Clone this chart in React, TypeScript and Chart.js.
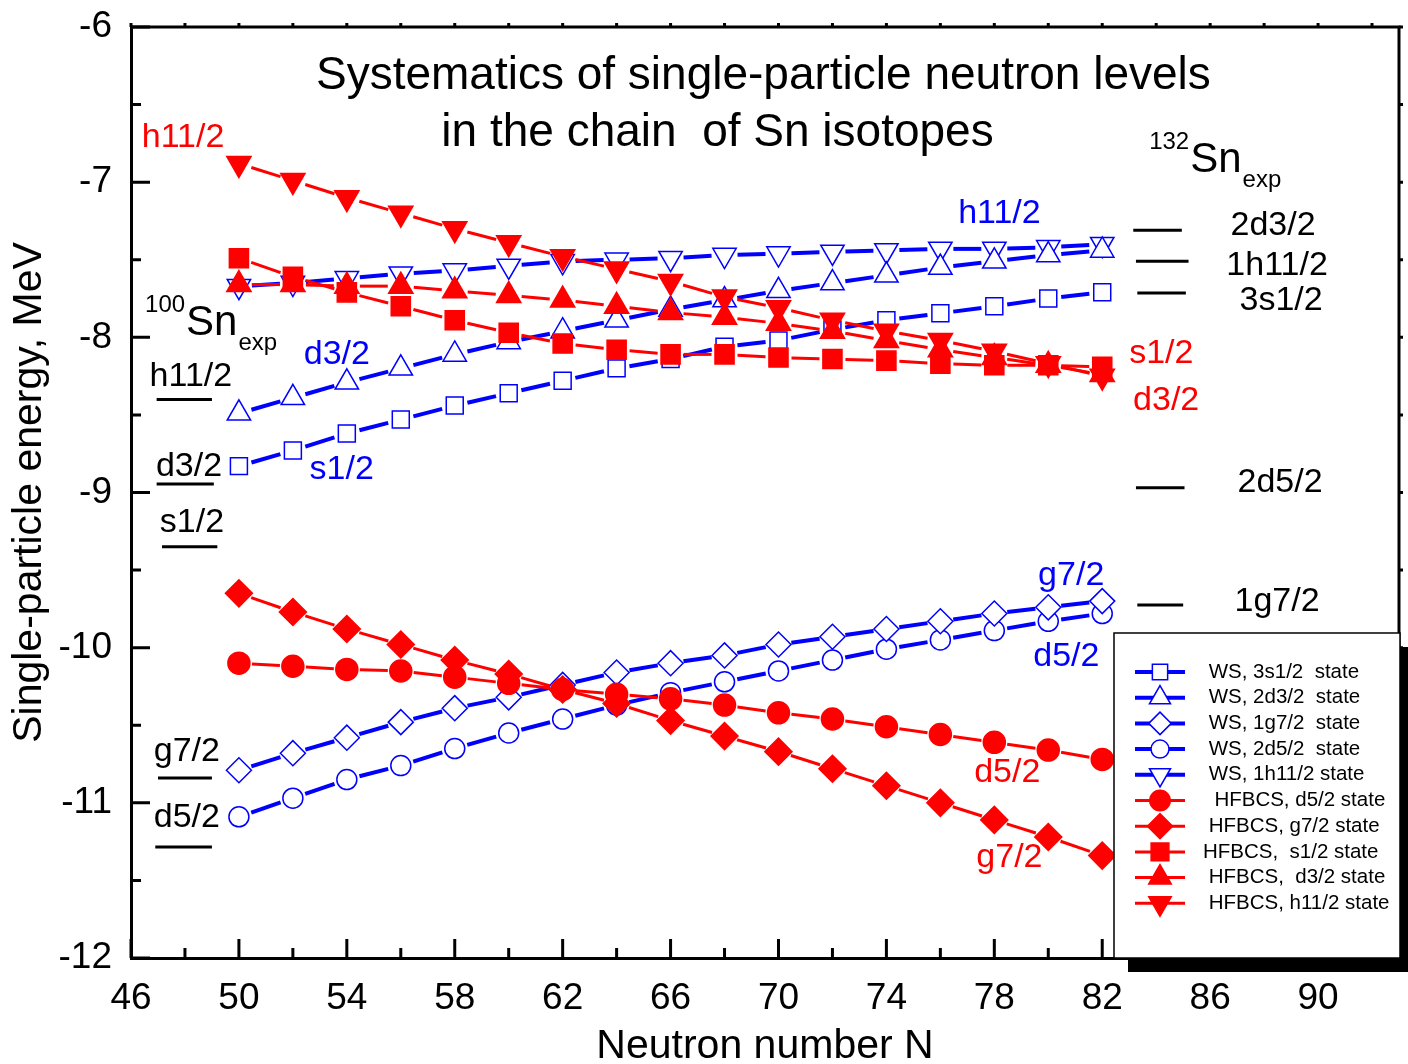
import React, { useEffect, useRef } from 'react';
import { Chart, registerables } from 'chart.js';
import { drawPoint } from 'chart.js/helpers';

Chart.register(...registerables);

const F = '"Liberation Sans", Arial, Helvetica, sans-serif';
const BLUE = '#0000ff';
const RED = '#ff0000';

// ---------- data ----------
const neutronN = [50, 52, 54, 56, 58, 60, 62, 64, 66, 68, 70, 72, 74, 76, 78, 80, 82];

const wsS12 = [-8.83, -8.73, -8.62, -8.53, -8.44, -8.36, -8.28, -8.2, -8.14, -8.06, -8.02, -7.95, -7.89, -7.845, -7.8, -7.75, -7.71];
const wsD32 = [-8.49, -8.39, -8.29, -8.2, -8.11, -8.03, -7.96, -7.89, -7.82, -7.76, -7.7, -7.65, -7.6, -7.55, -7.51, -7.47, -7.44];
const wsG72 = [-10.79, -10.68, -10.58, -10.48, -10.39, -10.32, -10.24, -10.16, -10.1, -10.05, -9.98, -9.93, -9.88, -9.83, -9.78, -9.74, -9.7];
const wsD52 = [-11.09, -10.97, -10.85, -10.76, -10.65, -10.55, -10.46, -10.37, -10.29, -10.22, -10.15, -10.08, -10.01, -9.95, -9.89, -9.83, -9.78];
const wsH112 = [-7.67, -7.65, -7.62, -7.59, -7.57, -7.54, -7.51, -7.5, -7.49, -7.47, -7.46, -7.45, -7.44, -7.43, -7.43, -7.42, -7.4];
const hfD52 = [-10.1, -10.12, -10.14, -10.15, -10.19, -10.23, -10.27, -10.3, -10.33, -10.37, -10.42, -10.46, -10.51, -10.56, -10.61, -10.66, -10.72];
const hfG72 = [-9.65, -9.77, -9.88, -9.98, -10.08, -10.17, -10.27, -10.36, -10.47, -10.57, -10.67, -10.78, -10.89, -11.0, -11.11, -11.22, -11.34];
const hfS12 = [-7.49, -7.61, -7.71, -7.8, -7.89, -7.97, -8.04, -8.08, -8.11, -8.11, -8.13, -8.14, -8.15, -8.17, -8.18, -8.18, -8.19];
const hfD32 = [-7.66, -7.66, -7.67, -7.67, -7.7, -7.73, -7.76, -7.8, -7.84, -7.87, -7.91, -7.96, -8.02, -8.08, -8.13, -8.18, -8.24];
const hfH112 = [-6.88, -6.99, -7.1, -7.2, -7.3, -7.39, -7.48, -7.56, -7.64, -7.74, -7.81, -7.89, -7.96, -8.02, -8.09, -8.17, -8.25];

const legendNames = [
  ' WS, 3s1/2  state',
  ' WS, 2d3/2  state',
  ' WS, 1g7/2  state',
  ' WS, 2d5/2  state',
  ' WS, 1h11/2 state',
  '  HFBCS, d5/2 state',
  ' HFBCS, g7/2 state',
  'HFBCS,  s1/2 state',
  ' HFBCS,  d3/2 state',
  ' HFBCS, h11/2 state',
];

// experimental levels of 100Sn (left) and 132Sn (right)
const sn100Labels = ['h11/2', 'd3/2', 's1/2', 'g7/2', 'd5/2'];
const sn100Energy = [-8.4, -8.945, -9.35, -10.84, -11.285];
const sn100XFrom = [46.95, 46.95, 47.15, 47.0, 46.9];
const sn100XTo = [49.0, 49.07, 49.2, 49.0, 49.0];
const sn100LabelX = [48.22, 48.15, 48.26, 48.07, 48.07];
const sn100LabelY = [-8.255, -8.835, -9.196, -10.671, -11.097];

const sn132Labels = ['2d3/2', '1h11/2', '3s1/2', '2d5/2', '1g7/2'];
const sn132Energy = [-7.31, -7.51, -7.715, -8.97, -9.725];
const sn132XFrom = [83.15, 83.25, 83.3, 83.25, 83.3];
const sn132XTo = [84.95, 85.2, 85.1, 85.05, 85.0];
const sn132LabelX = [88.33, 88.48, 88.63, 88.59, 88.48];
const sn132LabelY = [-7.282, -7.54, -7.765, -8.938, -9.705];

// state labels near curves [text, x, y, colour]
const curveLabels: [string, number, number, string][] = [
  ['h11/2', 47.93, -6.715, RED],
  ['d3/2', 53.63, -8.113, BLUE],
  ['s1/2', 53.81, -8.854, BLUE],
  ['h11/2', 78.19, -7.205, BLUE],
  ['g7/2', 80.85, -9.537, BLUE],
  ['d5/2', 80.67, -10.059, BLUE],
  ['s1/2', 84.19, -8.107, RED],
  ['d3/2', 84.37, -8.41, RED],
  ['d5/2', 78.48, -10.807, RED],
  ['g7/2', 78.56, -11.354, RED],
];

const titleLines = ['Systematics of single-particle neutron levels', 'in the chain  of Sn isotopes'];
const titleX = [69.44, 67.74];
const titleY = [-6.315, -6.683];

// isotope headings: [mass, x(left), y(baseline of "Sn")]
const isotopeHeads: [string, number, number][] = [
  ['100', 46.52, -7.985],
  ['132', 83.74, -6.934],
];

// ---------- series styling ----------
type Series = { vals: number[]; color: string; style: string; rot: number; r: number; filled: boolean; lw: number };
const series: Series[] = [
  { vals: wsS12, color: BLUE, style: 'rect', rot: 0, r: 12, filled: false, lw: 4 },
  { vals: wsD32, color: BLUE, style: 'triangle', rot: 0, r: 13.5, filled: false, lw: 4 },
  { vals: wsG72, color: BLUE, style: 'rectRot', rot: 0, r: 12.5, filled: false, lw: 4 },
  { vals: wsD52, color: BLUE, style: 'circle', rot: 0, r: 10, filled: false, lw: 4 },
  { vals: wsH112, color: BLUE, style: 'triangle', rot: 180, r: 13.5, filled: false, lw: 4 },
  { vals: hfD52, color: RED, style: 'circle', rot: 0, r: 11, filled: true, lw: 3 },
  { vals: hfG72, color: RED, style: 'rectRot', rot: 0, r: 13.5, filled: true, lw: 3 },
  { vals: hfS12, color: RED, style: 'rect', rot: 0, r: 13.5, filled: true, lw: 3 },
  { vals: hfD32, color: RED, style: 'triangle', rot: 0, r: 14, filled: true, lw: 3 },
  { vals: hfH112, color: RED, style: 'triangle', rot: 180, r: 14, filled: true, lw: 3 },
];

const decorPlugin = {
  id: 'decor',
  beforeDatasetDraw(chart: any, args: any) {
    const ds = chart.data.datasets[args.index];
    if (!ds.gapLine) return;
    const pts = args.meta.data;
    const ctx = chart.ctx;
    ctx.save();
    ctx.strokeStyle = ds.gapLine.color;
    ctx.lineWidth = ds.gapLine.width;
    ctx.lineCap = 'butt';
    const g = ds.gapLine.gap;
    for (let i = 0; i < pts.length - 1; i++) {
      const a = pts[i];
      const b = pts[i + 1];
      const dx = b.x - a.x;
      const dy = b.y - a.y;
      const L = Math.hypot(dx, dy);
      if (L <= 2 * g) continue;
      const ux = dx / L;
      const uy = dy / L;
      ctx.beginPath();
      ctx.moveTo(a.x + ux * g, a.y + uy * g);
      ctx.lineTo(b.x - ux * g, b.y - uy * g);
      ctx.stroke();
    }
    ctx.restore();
  },
  afterDraw(chart: any) {
    const ctx = chart.ctx;
    const xs = chart.scales.x;
    const ys = chart.scales.y;
    const area = chart.chartArea;
    ctx.save();
    // frame
    ctx.strokeStyle = '#000';
    ctx.lineWidth = 3;
    ctx.beginPath();
    ctx.moveTo(area.left, area.top);
    ctx.lineTo(area.right, area.top);
    ctx.lineTo(area.right, area.bottom);
    ctx.stroke();
    // ticks
    ctx.lineWidth = 3;
    for (const t of ys.ticks) {
      const v = t.value;
      const py = ys.getPixelForValue(v);
      const major = Math.abs(v - Math.round(v)) < 1e-6;
      const len = major ? 19 : 10;
      ctx.beginPath();
      ctx.moveTo(area.left, py);
      ctx.lineTo(area.left + len, py);
      ctx.moveTo(area.right, py);
      ctx.lineTo(area.right + 4, py);
      ctx.stroke();
    }
    for (const t of xs.ticks) {
      const v = t.value;
      if (Math.abs((v - 46) % 2) > 1e-6) continue;
      const px = xs.getPixelForValue(v);
      const major = Math.abs((v - 46) % 4) < 1e-6;
      const len = major ? 19 : 10;
      ctx.beginPath();
      ctx.moveTo(px, area.bottom);
      ctx.lineTo(px, area.bottom - len);
      ctx.moveTo(px, area.top);
      ctx.lineTo(px, area.top - 4);
      ctx.stroke();
    }
    // title
    ctx.fillStyle = '#000';
    ctx.textAlign = 'center';
    ctx.textBaseline = 'middle';
    ctx.font = `46px ${F}`;
    titleLines.forEach((s, i) => ctx.fillText(s, xs.getPixelForValue(titleX[i]), ys.getPixelForValue(titleY[i])));
    // level labels
    ctx.font = `34px ${F}`;
    sn100Labels.forEach((s, i) => ctx.fillText(s, xs.getPixelForValue(sn100LabelX[i]), ys.getPixelForValue(sn100LabelY[i])));
    sn132Labels.forEach((s, i) => ctx.fillText(s, xs.getPixelForValue(sn132LabelX[i]), ys.getPixelForValue(sn132LabelY[i])));
    curveLabels.forEach(([s, x, y, c]) => {
      ctx.fillStyle = c;
      ctx.fillText(s, xs.getPixelForValue(x), ys.getPixelForValue(y));
    });
    // isotope headings
    ctx.fillStyle = '#000';
    ctx.textAlign = 'left';
    ctx.textBaseline = 'alphabetic';
    isotopeHeads.forEach(([mass, x, y]) => {
      let px = xs.getPixelForValue(x);
      const py = ys.getPixelForValue(y);
      ctx.font = `24px ${F}`;
      ctx.fillText(mass, px, py - 23);
      px += ctx.measureText(mass).width + 1;
      ctx.font = `42px ${F}`;
      ctx.fillText('Sn', px, py);
      px += ctx.measureText('Sn').width + 1;
      ctx.font = `24px ${F}`;
      ctx.fillText('exp', px, py + 15);
    });
    // legend box
    const bw = 286;
    const bh = 325;
    const bx = area.right + 1 - bw;
    const by = area.bottom - bh;
    ctx.fillStyle = '#000';
    ctx.fillRect(bx + 14, by + 14, bw, bh);
    ctx.fillStyle = '#fff';
    ctx.fillRect(bx, by, bw, bh);
    ctx.strokeStyle = '#000';
    ctx.lineWidth = 1.5;
    ctx.strokeRect(bx, by, bw, bh);
    series.forEach((s, i) => {
      const y = by + 39 + i * 25.7;
      ctx.strokeStyle = s.color;
      ctx.lineWidth = s.lw;
      ctx.beginPath();
      ctx.moveTo(bx + 21, y);
      ctx.lineTo(bx + 71, y);
      ctx.stroke();
      ctx.fillStyle = s.filled ? s.color : '#fff';
      ctx.lineWidth = 1.5;
      drawPoint(ctx, { pointStyle: s.style, rotation: s.rot, radius: s.r * (s.filled ? 0.93 : 0.9), borderWidth: 1.5 } as any, bx + 46, y);
      ctx.fillStyle = '#000';
      ctx.font = `20.5px ${F}`;
      ctx.textAlign = 'left';
      ctx.textBaseline = 'middle';
      ctx.fillText(legendNames[i], bx + 89, y);
    });
    ctx.restore();
  },
};

const zeroPad = (s: any) => {
  s.paddingTop = 0;
  s.paddingBottom = 0;
  s.paddingLeft = 0;
  s.paddingRight = 0;
};

export default function App() {
  const ref = useRef<HTMLCanvasElement | null>(null);
  useEffect(() => {
    document.body.style.margin = '0';
    document.body.style.overflow = 'hidden';
    const canvas = ref.current;
    if (!canvas) return;
    const datasets: any[] = [];
    series.forEach((s, i) => {
      datasets.push({
        label: legendNames[i].trim(),
        data: neutronN.map((n, k) => ({ x: n, y: s.vals[k] })),
        showLine: false,
        pointStyle: s.style,
        pointRotation: s.rot,
        pointRadius: s.r,
        pointBorderWidth: 1.5,
        pointBackgroundColor: s.filled ? s.color : '#fff',
        pointBorderColor: s.color,
        backgroundColor: s.color,
        borderColor: s.color,
        order: s.filled ? 0 : 1,
        gapLine: { color: s.color, width: s.lw, gap: 13 },
      });
    });
    sn100Energy.forEach((e, i) => {
      datasets.push({
        label: '100Sn ' + sn100Labels[i],
        data: [{ x: sn100XFrom[i], y: e }, { x: sn100XTo[i], y: e }],
        showLine: true,
        borderColor: '#000',
        borderWidth: 3,
        pointRadius: 0,
        order: 2,
      });
    });
    sn132Energy.forEach((e, i) => {
      datasets.push({
        label: '132Sn ' + sn132Labels[i],
        data: [{ x: sn132XFrom[i], y: e }, { x: sn132XTo[i], y: e }],
        showLine: true,
        borderColor: '#000',
        borderWidth: 3,
        pointRadius: 0,
        order: 2,
      });
    });
    const chart = new Chart(canvas, {
      type: 'scatter',
      data: { datasets },
      plugins: [decorPlugin],
      options: {
        animation: false,
        responsive: false,
        events: [],
        layout: { autoPadding: false, padding: { top: 27, right: 9, left: 0, bottom: 0 } },
        plugins: { legend: { display: false }, tooltip: { enabled: false }, title: { display: false } },
        scales: {
          x: {
            type: 'linear',
            min: 46,
            max: 93,
            afterFit: (s: any) => { s.height = 106; zeroPad(s); },
            grid: { display: false, drawTicks: false },
            border: { display: true, color: '#000', width: 3 },
            ticks: {
              stepSize: 2,
              includeBounds: false,
              autoSkip: false,
              maxRotation: 0,
              minRotation: 0,
              padding: 19,
              color: '#000',
              font: { family: F, size: 37 },
              callback: (v: any) => (Math.abs((Number(v) - 46) % 4) < 1e-6 ? String(v) : ''),
            },
            title: {
              display: true,
              text: 'Neutron number N',
              color: '#000',
              font: { family: F, size: 41, lineHeight: 0.86 },
              padding: { top: 0, bottom: 0 },
            },
          },
          y: {
            type: 'linear',
            min: -12,
            max: -6,
            afterFit: (s: any) => { s.width = 131; zeroPad(s); },
            grid: { display: false, drawTicks: false },
            border: { display: true, color: '#000', width: 3 },
            ticks: {
              stepSize: 0.5,
              autoSkip: false,
              padding: 19,
              color: '#000',
              font: { family: F, size: 37 },
              callback: (v: any) => (Number.isInteger(Number(v)) ? String(v) : ''),
            },
            title: {
              display: true,
              text: 'Single-particle energy, MeV',
              color: '#000',
              font: { family: F, size: 41, lineHeight: 1.2 },
              padding: { top: 5, bottom: 0 },
            },
          },
        },
      } as any,
    });
    return () => chart.destroy();
  }, []);
  return (
    <div style={{ width: 1408, height: 1064 }}>
      <canvas ref={ref} width={1408} height={1064} style={{ display: 'block' }} />
    </div>
  );
}
